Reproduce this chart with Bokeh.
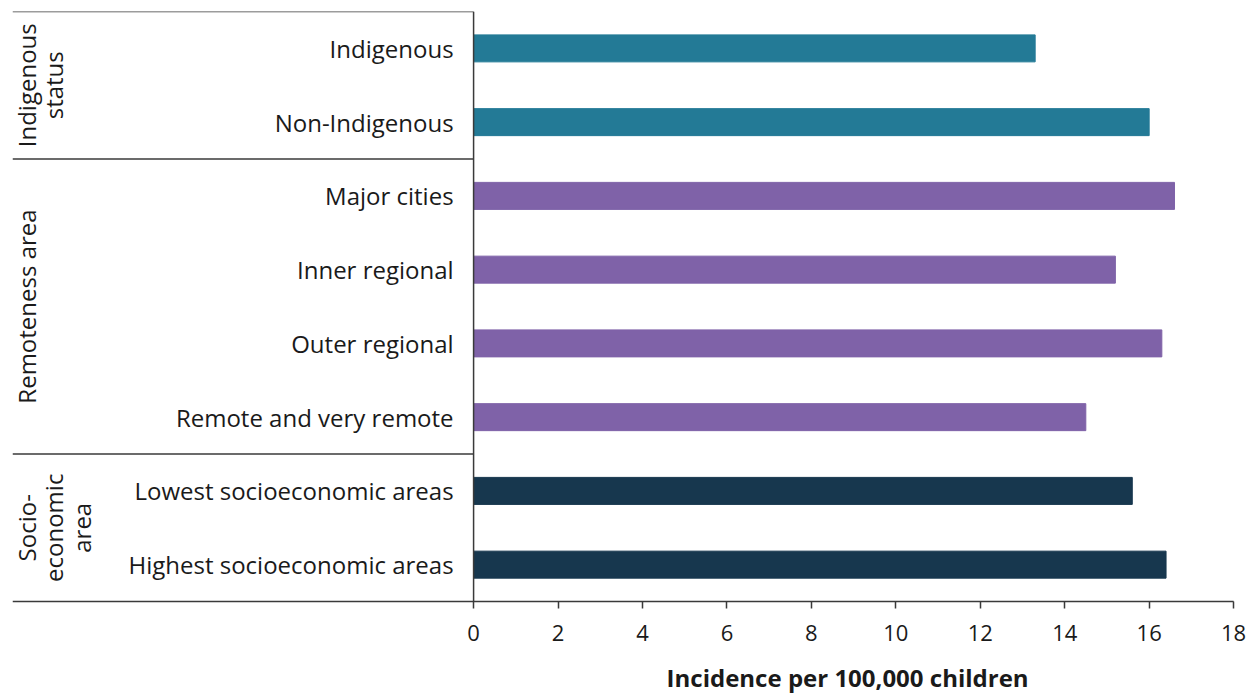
from bokeh.plotting import figure
from bokeh.models import ColumnDataSource, FixedTicker, Range1d, Label
from bokeh.core.properties import value
from bokeh.embed import file_html
from bokeh.resources import INLINE

categories = ["Indigenous", "Non-Indigenous", "Major cities", "Inner regional",
              "Outer regional", "Remote and very remote",
              "Lowest socioeconomic areas", "Highest socioeconomic areas"]
values = [13.3, 16.0, 16.6, 15.2, 16.3, 14.5, 15.6, 16.4]
groups = ["Indigenous status", "Indigenous status", "Remoteness area", "Remoteness area",
          "Remoteness area", "Remoteness area", "Socio-economic area", "Socio-economic area"]
group_colors = {"Indigenous status": "#237a96", "Remoteness area": "#7f62a8",
                "Socio-economic area": "#17374e"}
x_ticks = [0, 2, 4, 6, 8, 10, 12, 14, 16, 18]
x_title = "Incidence per 100,000 children"

n = len(categories)
ypos = [n - 0.5 - i for i in range(n)]
src = ColumnDataSource(dict(y=ypos, v=values, cat=categories,
                            color=[group_colors[g] for g in groups],
                            zero=[0] * n))

FONT = "Open Sans"
# frame reaches the bottom/right of the canvas; the x axis is pinned at y = 0
p = figure(width=1250, height=693, output_backend="svg", toolbar_location=None,
           x_range=Range1d(-10.92, 18.40), y_range=Range1d(-1.247, n),
           min_border_left=12, min_border_right=0, min_border_top=11, min_border_bottom=0)
p.outline_line_color = None
p.grid.visible = False
p.yaxis.visible = False

p.hbar(y="y", left="zero", right="v", height=0.366, color="color", source=src)
p.text(x="zero", y="y", text="cat", source=src, x_offset=-20, text_align="right",
       text_baseline="middle", text_font=value(FONT), text_font_size="24px",
       text_color="#1a1a1a")

# group structure lines
line_col = "#3a3a3a"
bounds = [n]
for i in range(1, n):
    if groups[i] != groups[i - 1]:
        bounds.append(n - i)
xl = p.x_range.start
p.segment(x0=[xl] * len(bounds), x1=[0] * len(bounds), y0=bounds, y1=bounds,
          line_color=line_col, line_width=1.5)
p.segment(x0=[0], x1=[0], y0=[0], y1=[n], line_color=line_col, line_width=1.5)
# baseline under the rows, ending at the last tick
p.segment(x0=[xl], x1=[x_ticks[-1]], y0=[0], y1=[0], line_color=line_col, line_width=1.5)

# group labels (one Label per line, rotated)
label_lines = {"Indigenous status": ["Indigenous", "status"],
               "Remoteness area": ["Remoteness area"],
               "Socio-economic area": ["Socio-", "economic", "area"]}
line_x0 = -10.6    # first line centre, in data units
line_step = 0.655  # line spacing, in data units
seen = []
for g in groups:
    if g not in seen:
        seen.append(g)
for g in seen:
    idx = [i for i, gg in enumerate(groups) if gg == g]
    yc = sum(ypos[i] for i in idx) / len(idx)
    for k, t in enumerate(label_lines[g]):
        p.add_layout(Label(x=line_x0 + k * line_step, y=yc, text=t, angle=1.5708,
                           text_align="center", text_baseline="middle",
                           text_font=FONT, text_font_size="24px",
                           text_color="#1a1a1a"))

ax = p.xaxis[0]
ax.fixed_location = 0
ax.ticker = FixedTicker(ticks=x_ticks)
ax.axis_line_color = None
ax.major_tick_line_color = line_col
ax.major_tick_line_width = 1.5
ax.major_tick_out = 7
ax.major_tick_in = 0
ax.minor_tick_line_color = None
ax.major_label_text_font = FONT
ax.major_label_text_font_size = "22px"
ax.major_label_text_color = "#1a1a1a"
ax.major_label_standoff = 16

# axis title centred under the 0..18 scale
p.add_layout(Label(x=(x_ticks[0] + x_ticks[-1]) / 2, y=0, x_offset=-6, y_offset=-76,
                   text=x_title, text_align="center", text_baseline="middle",
                   text_font=FONT, text_font_style="bold", text_font_size="24px",
                   text_color="#1a1a1a"))

open("out.html", "w").write(file_html(p, INLINE))
